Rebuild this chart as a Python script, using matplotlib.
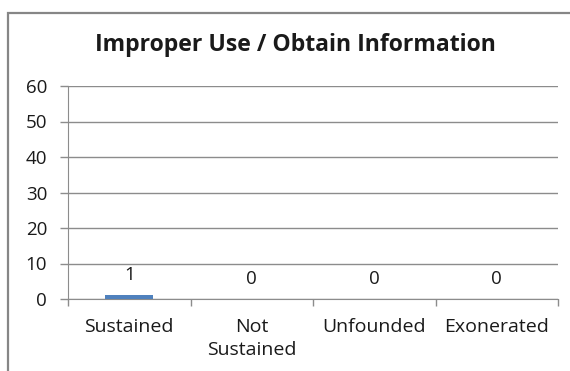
import matplotlib.pyplot as plt
from matplotlib.patches import Rectangle

categories = ['Sustained', 'Not\nSustained', 'Unfounded', 'Exonerated']
values = [1, 0, 0, 0]
yticks = [0, 10, 20, 30, 40, 50, 60]

plt.rcParams['font.family'] = ['Open Sans', 'DejaVu Sans']

fig = plt.figure(figsize=(5.7, 3.71), dpi=100)
W, H = 570, 371
ax = fig.add_axes([68 / W, 1 - 299 / H, (558 - 68) / W, (299 - 86) / H])

# outer chart frame (only left and top visible in the crop)
fig.patches.append(Rectangle((8 / W, -0.2), 1.2, 1 - 13 / H + 0.2, transform=fig.transFigure,
                             fill=False, edgecolor='#868686', lw=1.6, clip_on=False))

x = range(len(categories))
ax.bar(x, values, width=0.39, color='#4F81BD', zorder=3)
for xi, v in zip(x, values):
    ax.text(xi, v + 3.2, str(v), ha='center', va='bottom', fontsize=13.5, color='#1a1a1a')

ax.set_xlim(-0.5, 3.5)
ax.set_ylim(0, 60)
ax.set_yticks(yticks)
ax.yaxis.grid(True, color='#8c8c8c', lw=1)
ax.set_axisbelow(True)

ax.set_xticks(list(x))
ax.set_xticklabels(categories, fontsize=14, color='#1a1a1a', linespacing=1.3, va='top')
ax.tick_params(axis='x', length=0, pad=14)
ax.set_xticks([-0.5, 0.5, 1.5, 2.5, 3.5], minor=True)
ax.tick_params(axis='x', which='minor', length=5, color='#8c8c8c', width=1)
ax.tick_params(axis='y', length=6, color='#8c8c8c', width=1, labelsize=13.5, labelcolor='#1a1a1a', pad=9)

for s in ['top', 'right']:
    ax.spines[s].set_visible(False)
ax.spines['left'].set_color('#8c8c8c')
ax.spines['bottom'].set_color('#8c8c8c')

fig.text(295 / W, 1 - 45 / H, 'Improper Use / Obtain Information', ha='center', va='center',
         fontsize=16.6, fontweight='bold', color='#1a1a1a')

fig.savefig('out.png', dpi=100)
